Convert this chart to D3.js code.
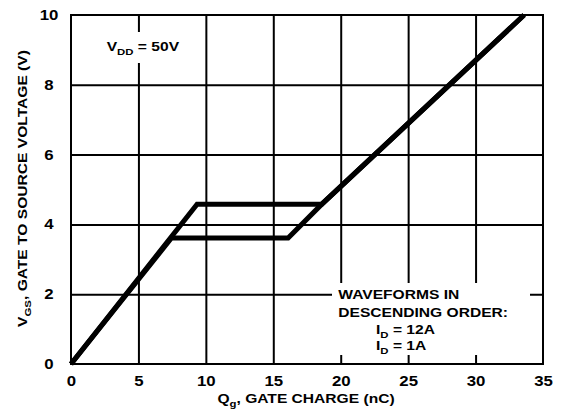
<!DOCTYPE html>
<html><head><meta charset="utf-8">
<script src="https://cdn.jsdelivr.net/npm/d3@7"></script>
<style>
body{margin:0;background:#fff;}
svg text{font-family:"Liberation Sans",Arial,sans-serif;font-weight:bold;fill:#000;}
</style></head>
<body><svg id="c" width="562" height="420"></svg>
<script>
// ---- data ----
const xTicks = [0, 5, 10, 15, 20, 25, 30, 35];
const yTicks = [0, 2, 4, 6, 8, 10];
const qUpper = [0, 9.35, 18.6, 33.6];     // I_D = 12A
const vUpper = [0, 4.58, 4.58, 10];
const qLower = [0, 7.45, 16.1, 18.6, 33.6]; // I_D = 1A
const vLower = [0, 3.61, 3.61, 4.58, 10];
const legendLines = ["WAVEFORMS IN", "DESCENDING ORDER:"];
const legendSeries = [["I", "D", " = 12A"], ["I", "D", " = 1A"]];

const SX = 1.2; // horizontal stretch of the lettering
const svg = d3.select("#c");
const L = 71, R = 543, T = 15, B = 364;
const x = d3.scaleLinear().domain([0, 35]).range([L, R]);
const y = d3.scaleLinear().domain([0, 10]).range([B, T]);

// grid
svg.append("g").attr("transform", `translate(0,${B})`)
  .call(d3.axisBottom(x).tickValues(xTicks.slice(1, -1)).tickSize(-(B - T)).tickFormat(""))
  .call(g => { g.select(".domain").remove(); g.selectAll("line").attr("stroke", "#000").attr("stroke-width", 2); });
svg.append("g").attr("transform", `translate(${L},0)`)
  .call(d3.axisLeft(y).tickValues(yTicks.slice(1, -1)).tickSize(-(R - L)).tickFormat(""))
  .call(g => { g.select(".domain").remove(); g.selectAll("line").attr("stroke", "#000").attr("stroke-width", 2); });

// white boxes behind annotations
svg.append("rect").attr("x", 100).attr("y", 32).attr("width", 90).attr("height", 31).attr("fill", "#fff");
svg.append("rect").attr("x", 332).attr("y", 283).attr("width", 198).attr("height", 72).attr("fill", "#fff");

// border
svg.append("rect").attr("x", L).attr("y", T).attr("width", R - L).attr("height", B - T)
  .attr("fill", "none").attr("stroke", "#000").attr("stroke-width", 2);

// tick labels
svg.append("g").attr("transform", `translate(0,${B})`)
  .call(d3.axisBottom(x).tickValues(xTicks).tickSize(0).tickPadding(12.5).tickFormat(d3.format("d")))
  .call(g => {
    g.select(".domain").remove();
    g.selectAll("text").attr("font-size", 14).attr("font-family", null)
      .attr("transform", `scale(${SX},1)`).attr("y", 12.5);
  });
svg.append("g").attr("transform", `translate(${L},0)`)
  .call(d3.axisLeft(y).tickValues(yTicks).tickSize(0).tickFormat(d3.format("d")))
  .call(g => {
    g.select(".domain").remove();
    g.selectAll("text").attr("font-size", 14).attr("font-family", null)
      .attr("text-anchor", "middle").attr("x", 0)
      .attr("transform", `translate(-22,0) scale(${SX},1)`);
  });

// text helper with subscripts: parts = [[str, isSub], ...]
function label(tx, ty, parts, opts = {}) {
  const size = opts.size || 13;
  const t = svg.append("text").attr("font-size", size)
    .attr("text-anchor", opts.anchor || "start")
    .attr("transform", `translate(${tx},${ty})${opts.rot ? " rotate(-90)" : ""} scale(${SX},1)`);
  let sub = false;
  parts.forEach(([s, isSub]) => {
    const sp = t.append("tspan").text(s);
    if (isSub && !sub) { sp.attr("font-size", size * 0.73).attr("dy", 4); sub = true; }
    else if (!isSub && sub) { sp.attr("dy", -4); sub = false; }
  });
  return t;
}

label(106.7, 50.7, [["V", 0], ["DD", 1], [" = 50V", 0]]);
legendLines.forEach((s, i) => label(338.3, 299.3 + i * 17.4, [[s, 0]]));
legendSeries.forEach((p, i) => label(376, 334 + i * 16.3, [[p[0], 0], [p[1], 1], [p[2], 0]]));

label(306, 402.7, [["Q", 0], ["g", 1], [", GATE CHARGE (nC)", 0]], { anchor: "middle" });
label(26.7, 188.5, [["V", 0], ["GS", 1], [", GATE TO SOURCE VOLTAGE (V)", 0]], { anchor: "middle", rot: true });

// curves
const line = d3.line().x(d => x(d[0])).y(d => y(d[1]));
[[qUpper, vUpper], [qLower, vLower]].forEach(([qs, vs]) => {
  svg.append("path").datum(d3.zip(qs, vs)).attr("d", line)
    .attr("fill", "none").attr("stroke", "#000").attr("stroke-width", 5)
    .attr("stroke-linejoin", "miter");
});
</script></body></html>
